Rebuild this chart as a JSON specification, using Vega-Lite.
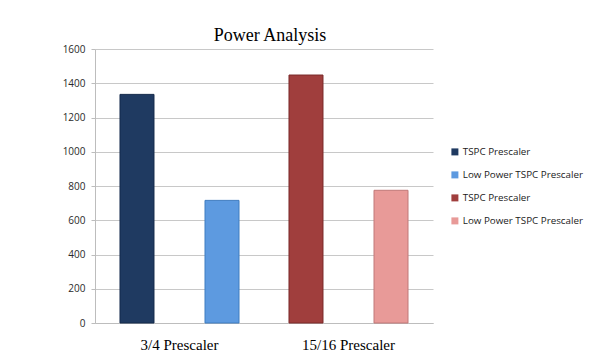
{
  "$schema": "https://vega.github.io/schema/vega-lite/v6.json",
  "width": 338,
  "height": 274,
  "autosize": {"type": "none"},
  "padding": {"left": 95, "top": 49, "right": 175, "bottom": 31},
  "background": "white",
  "title": {"text": "Power Analysis", "font": "Liberation Serif", "fontSize": 18, "fontWeight": "normal", "color": "#000000", "anchor": "middle", "dx": 6, "dy": 5, "offset": 4},
  "data": {"values": [
    {"group": "3/4 Prescaler", "sub": "TSPC", "series": "TSPC Prescaler (3/4)", "value": 1335},
    {"group": "3/4 Prescaler", "sub": "Low Power", "series": "Low Power TSPC Prescaler (3/4)", "value": 716},
    {"group": "15/16 Prescaler", "sub": "TSPC", "series": "TSPC Prescaler (15/16)", "value": 1448},
    {"group": "15/16 Prescaler", "sub": "Low Power", "series": "Low Power TSPC Prescaler (15/16)", "value": 775}
  ]},
  "mark": {"type": "bar", "strokeWidth": 1},
  "encoding": {
    "x": {"field": "group", "type": "nominal", "sort": ["3/4 Prescaler", "15/16 Prescaler"],
      "scale": {"paddingInner": 0, "paddingOuter": 0},
      "axis": {"title": null, "labelAngle": 0, "ticks": false, "domain": true, "domainColor": "#bdbdbd", "labelFont": "Liberation Serif", "labelFontSize": 15, "labelColor": "#000000", "labelPadding": 14}},
    "xOffset": {"field": "sub", "type": "nominal", "sort": ["TSPC", "Low Power"],
      "scale": {"paddingInner": 0.6, "paddingOuter": 0.294}},
    "y": {"field": "value", "type": "quantitative",
      "scale": {"domain": [0, 1600], "nice": false},
      "axis": {"title": null, "values": [0, 200, 400, 600, 800, 1000, 1200, 1400, 1600], "format": "d", "grid": true, "gridColor": "#c8c8c8", "domainColor": "#bdbdbd", "tickColor": "#bdbdbd", "tickSize": 4, "labelPadding": 6, "labelFont": "Open Sans", "labelFontSize": 10, "labelColor": "#2a2a2a"}},
    "color": {"field": "series", "type": "nominal",
      "sort": ["TSPC Prescaler (3/4)", "Low Power TSPC Prescaler (3/4)", "TSPC Prescaler (15/16)", "Low Power TSPC Prescaler (15/16)"],
      "scale": {"domain": ["TSPC Prescaler (3/4)", "Low Power TSPC Prescaler (3/4)", "TSPC Prescaler (15/16)", "Low Power TSPC Prescaler (15/16)"], "range": ["#1f3a61", "#5d9ae0", "#a03e3d", "#e89a98"]},
      "legend": {"title": null, "orient": "none", "legendX": 355, "legendY": 98, "symbolType": "square", "symbolSize": 49, "symbolStrokeWidth": 0, "labelFont": "Open Sans", "labelFontSize": 9.8, "labelColor": "#1a1a1a", "labelOffset": 3, "rowPadding": 12, "labelExpr": "split(datum.label, ' (')[0]"}},
    "stroke": {"field": "series", "type": "nominal",
      "scale": {"domain": ["TSPC Prescaler (3/4)", "Low Power TSPC Prescaler (3/4)", "TSPC Prescaler (15/16)", "Low Power TSPC Prescaler (15/16)"], "range": ["#142a4a", "#3f7cc0", "#7a2a2a", "#c07878"]},
      "legend": null}
  },
  "config": {"view": {"stroke": null}}
}
